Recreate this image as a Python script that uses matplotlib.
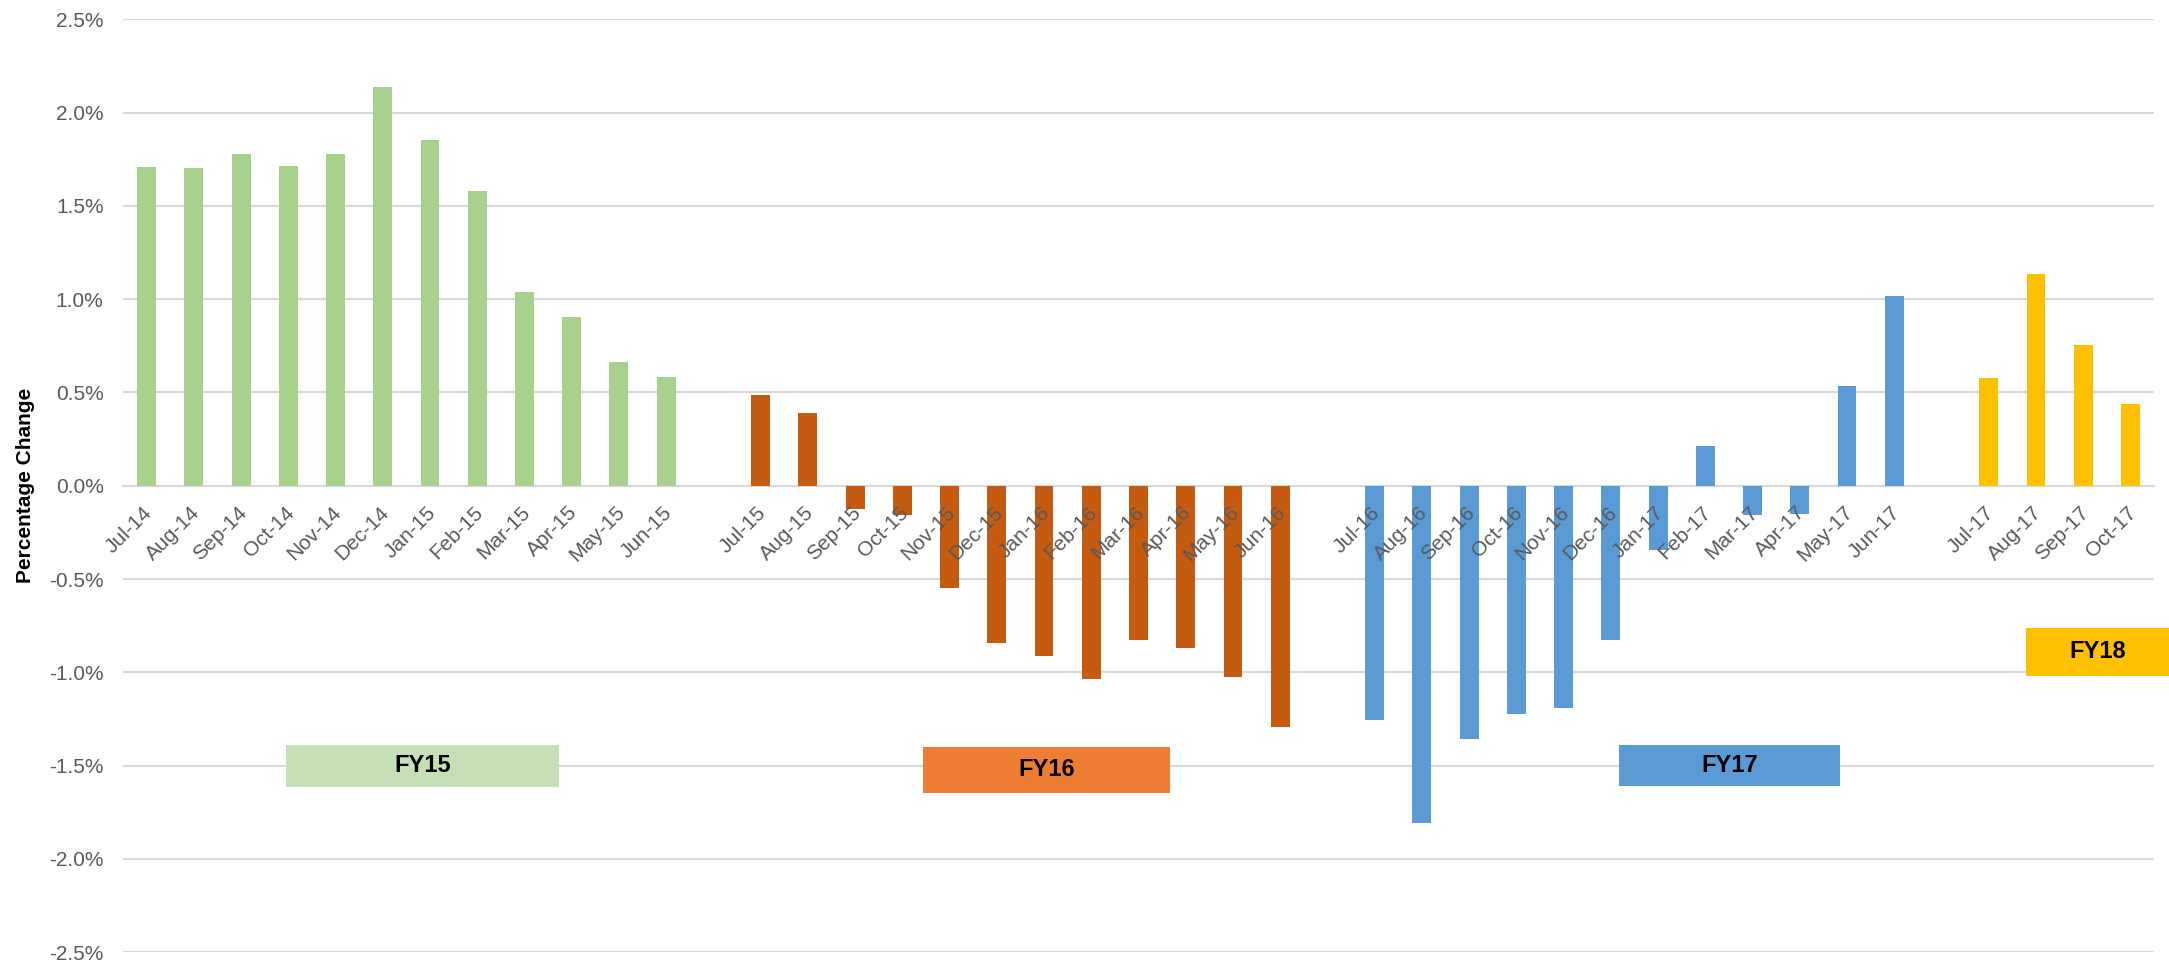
import numpy as np
import matplotlib
matplotlib.use("Agg")
import matplotlib.pyplot as plt
from matplotlib.patches import Rectangle

# ----------------------------
# Dados (variação percentual mensal)
# ----------------------------
fy15_labels = ["Jul-14", "Aug-14", "Sep-14", "Oct-14", "Nov-14", "Dec-14",
               "Jan-15", "Feb-15", "Mar-15", "Apr-15", "May-15", "Jun-15"]
fy15_values = [1.71, 1.705, 1.776, 1.716, 1.776, 2.139,
               1.855, 1.578, 1.041, 0.902, 0.661, 0.582]

fy16_labels = ["Jul-15", "Aug-15", "Sep-15", "Oct-15", "Nov-15", "Dec-15",
               "Jan-16", "Feb-16", "Mar-16", "Apr-16", "May-16", "Jun-16"]
fy16_values = [0.484, 0.39, -0.123, -0.159, -0.55, -0.845,
               -0.914, -1.037, -0.829, -0.871, -1.027, -1.295]

fy17_labels = ["Jul-16", "Aug-16", "Sep-16", "Oct-16", "Nov-16", "Dec-16",
               "Jan-17", "Feb-17", "Mar-17", "Apr-17", "May-17", "Jun-17"]
fy17_values = [-1.255, -1.81, -1.359, -1.224, -1.192, -0.829,
               -0.344, 0.214, -0.156, -0.151, 0.537, 1.016]

fy18_labels = ["Jul-17", "Aug-17", "Sep-17", "Oct-17"]
fy18_values = [0.58, 1.135, 0.755, 0.437]

groups = [
    ("FY15", fy15_labels, fy15_values, "#A9D18E", "#C5E0B4"),
    ("FY16", fy16_labels, fy16_values, "#C55A11", "#ED7D31"),
    ("FY17", fy17_labels, fy17_values, "#5B9BD5", "#5B9BD5"),
    ("FY18", fy18_labels, fy18_values, "#FFC000", "#FFC000"),
]

# caixas dos rótulos FY (x0, x1, y0, y1) em coordenadas de dados
fy_boxes = {
    "FY15": (2.95, 8.73, -1.613, -1.39),
    "FY16": (16.44, 21.67, -1.645, -1.40),
    "FY17": (31.17, 35.85, -1.61, -1.39),
    "FY18": (39.79, 42.9, -1.018, -0.763),
}
fy_text_x = {"FY15": 5.84, "FY16": 19.05, "FY17": 33.51, "FY18": 41.3}

font = ["Liberation Sans", "DejaVu Sans"]

# ----------------------------
# Figura
# ----------------------------
fig = plt.figure(figsize=(21.69, 9.67), dpi=100)
ax = fig.add_axes([0.0567, 0.0153, 0.9364, 0.9647])

# eixo x passa pelo zero
ax.spines["bottom"].set_position(("data", 0))
ax.spines["bottom"].set_color("#D9D9D9")
ax.spines["bottom"].set_linewidth(1.5)
for s in ["top", "right", "left"]:
    ax.spines[s].set_visible(False)

pos = 0
for name, labels, values, bar_color, box_color in groups:
    x = np.arange(pos, pos + len(values))
    ax.bar(x, values, width=0.40, color=bar_color, zorder=3)

    # rótulos de categoria por cima das barras (como no Excel)
    for xi, lab in zip(x, labels):
        ax.annotate(lab, xy=(xi, 0), xytext=(2, -17),
                    textcoords="offset points", rotation=45,
                    ha="right", va="center", rotation_mode="anchor",
                    family=font, fontsize=15, color="#595959", zorder=6)
    pos += len(values) + 1  # categoria vazia entre anos fiscais

    bx0, bx1, by0, by1 = fy_boxes[name]
    ax.add_patch(Rectangle((bx0, by0), bx1 - bx0, by1 - by0,
                           facecolor=box_color, edgecolor="none",
                           zorder=4, clip_on=False))
    ax.text(fy_text_x[name], (by0 + by1) / 2, name, ha="center", va="center",
            fontsize=17, fontweight="bold", family=font,
            color="black", zorder=5)

ax.set_xlim(-0.5, pos - 1.5)
ax.set_ylim(-2.5, 2.5)
ax.set_xticks([])

yt = np.arange(-2.5, 2.51, 0.5)
ax.set_yticks(yt)
ax.set_yticklabels([f"{v:.1f}%" for v in yt],
                   family=font, fontsize=15, color="#595959")
ax.yaxis.grid(True, color="#D9D9D9", linewidth=1.5, zorder=0)
ax.set_axisbelow(True)

ax.tick_params(axis="y", length=0, pad=14)

ax.set_ylabel("Percentage Change", fontsize=15, fontweight="bold",
              family=font, color="black", labelpad=10)

fig.savefig("out.png", dpi=100)
